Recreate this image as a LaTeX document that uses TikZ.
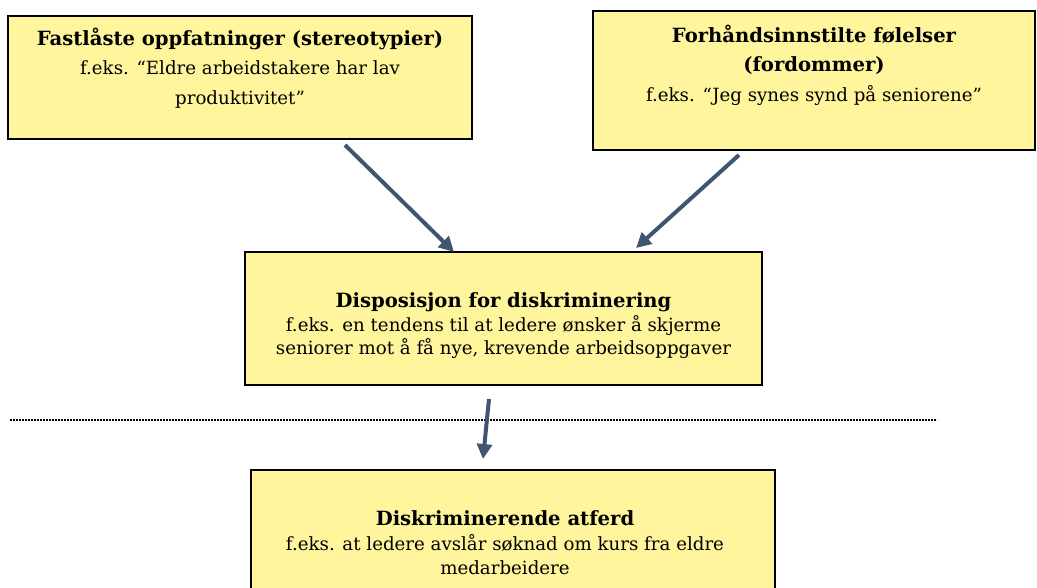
\documentclass[tikz,border=0pt]{standalone}
\usepackage{fontspec}
\setmainfont{DejaVu Serif}
\usetikzlibrary{arrows.meta}
\definecolor{boxfill}{HTML}{FFF59D}
\definecolor{arrowc}{HTML}{3F5570}
\newcommand{\hd}[1]{{\fontsize{19.6}{29}\selectfont\bfseries #1}}
\tikzset{
  box/.style={draw=black, line width=1.6pt, fill=boxfill, inner sep=0pt, rectangle},
  txt/.style={align=center, inner sep=0pt, font=\fontsize{18.2}{29.5}\selectfont},
  txtb/.style={align=center, inner sep=0pt, font=\fontsize{18.2}{24.5}\selectfont},
  conn/.style={draw=arrowc, line width=4pt, -{Triangle[length=15pt,width=15pt]}},
}
\begin{document}
\begin{tikzpicture}[x=1pt,y=-1pt]
\useasboundingbox (0,0) rectangle (1037,588);
% boxes
\node[box, minimum width=464pt, minimum height=123pt] (b1) at (240,77.5) {};
\node[box, minimum width=442pt, minimum height=139pt] (b2) at (814,80.5) {};
\node[box, minimum width=517pt, minimum height=133pt] (b3) at (503.5,318.5) {};
\node[box, minimum width=524pt, minimum height=140pt] (b4) at (513,540) {};
% texts
\node[txt] (t1) at (240,68) {\hd{Fastlåste oppfatninger (stereotypier)}\\f.eks. “Eldre arbeidstakere har lav\\produktivitet”};
\node[txt] (t2) at (814,65) {\hd{Forhåndsinnstilte følelser}\\\hd{(fordommer)}\\f.eks. “Jeg synes synd på seniorene”};
\node[txtb, font=\fontsize{18.2}{23.5}\selectfont] (t3) at (503.5,326) {\hd{Disposisjon for diskriminering}\\f.eks. en tendens til at ledere ønsker å skjerme\\seniorer mot å få nye, krevende arbeidsoppgaver};
\node[txtb] (t4) at (505,543) {\hd{Diskriminerende atferd}\\f.eks. at ledere avslår søknad om kurs fra eldre\\medarbeidere};
% dotted separator
\coordinate (d1) at (10,420);
\coordinate (d2) at (937,420);
\draw[line width=2.4pt, dash pattern=on 1.6pt off 1.4pt] (d1) -- (d2);
% arrows
\coordinate (a1s) at (345,145);
\coordinate (a1e) at (454,252);
\coordinate (a2s) at (739,155);
\coordinate (a2e) at (636,248);
\coordinate (a3s) at (489,399);
\coordinate (a3e) at (483,459);
\draw[conn] (a1s) -- (a1e);
\draw[conn] (a2s) -- (a2e);
\draw[conn] (a3s) -- (a3e);
\end{tikzpicture}
\end{document}
